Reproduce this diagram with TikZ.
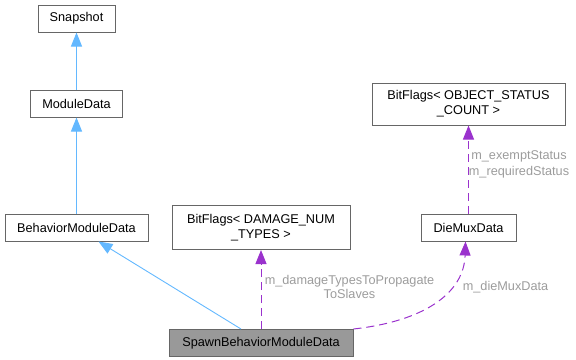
\documentclass[tikz,border=0pt]{standalone}
\usepackage{fontspec}
\setmainfont{Liberation Sans}
\usetikzlibrary{positioning, arrows.meta}
\definecolor{inheritblue}{HTML}{63B8FF}
\definecolor{memberpurple}{HTML}{9A32CD}
\definecolor{boxgray}{HTML}{666666}
\definecolor{spawngray}{HTML}{999999}
\definecolor{labelgray}{HTML}{9C9C9C}
\tikzstyle{Box} = [
draw=boxgray, fill=white, line width=1pt,
minimum height=27pt, inner sep=0pt, align=center,
font=\fontsize{12.7}{15}\selectfont]
\tikzstyle{Inherit} = [
draw=inheritblue, line width=0.9pt,
-{Triangle[width=11pt,length=14pt]}]
\tikzstyle{Member} = [
draw=memberpurple, line width=1pt, dash pattern=on 8pt off 5pt,
-{Triangle[width=11pt,length=14pt]}]
\tikzstyle{Label} = [
text=labelgray, align=center, inner sep=0pt,
font=\fontsize{12.7}{14}\selectfont]

\begin{document}
\begin{tikzpicture}
    \useasboundingbox (0,0) rectangle (576pt,-359pt);
    \node [Box, minimum width=77pt] (1) at (76.5pt,-18.5pt) {Snapshot};
    \node [Box, minimum width=92pt, below =57pt of 1] (2) {ModuleData};
    \node [Box, minimum width=143pt, below =96pt of 2] (3) {BehaviorModuleData};
    \node [Box, minimum width=178pt, minimum height=44pt, right =23pt of 3] (4) {BitFlags< DAMAGE\_NUM\\\_TYPES >};
    \node [Box, minimum width=184pt, fill=spawngray, below =79pt of 4] (5) {SpawnBehaviorModuleData};
    \node [Box, minimum width=95pt, right =70pt of 4] (6) {DieMuxData};
    \node [Box, minimum width=193pt, minimum height=42pt, above =88pt of 6] (7) {BitFlags< OBJECT\_STATUS\\\_COUNT >};

    % member names beside the dashed edges
    \node [Label] (8) at (349.5pt,-287pt) {m\_damageTypesToPropagate\\ToSlaves};
    \node [Label] (9) at (505.5pt,-287pt) {m\_dieMuxData};
    \node [Label] (10) at (519pt,-164pt) {m\_exemptStatus\\[2pt]m\_requiredStatus};

    \draw[Inherit] (2) -- (1);
    \draw[Inherit] (3) -- (2);
    \draw[Inherit] ([xshift=-20pt]5.north) -- ([xshift=22pt]3.south);
    \draw[Member] (5) -- (4);
    \draw[Member] (5.north east) .. controls +(72pt,8pt) and +(-1.5pt,-51pt) .. ([xshift=-3pt]6.south);
    \draw[Member] (6) -- (7);
\end{tikzpicture}
\end{document}
